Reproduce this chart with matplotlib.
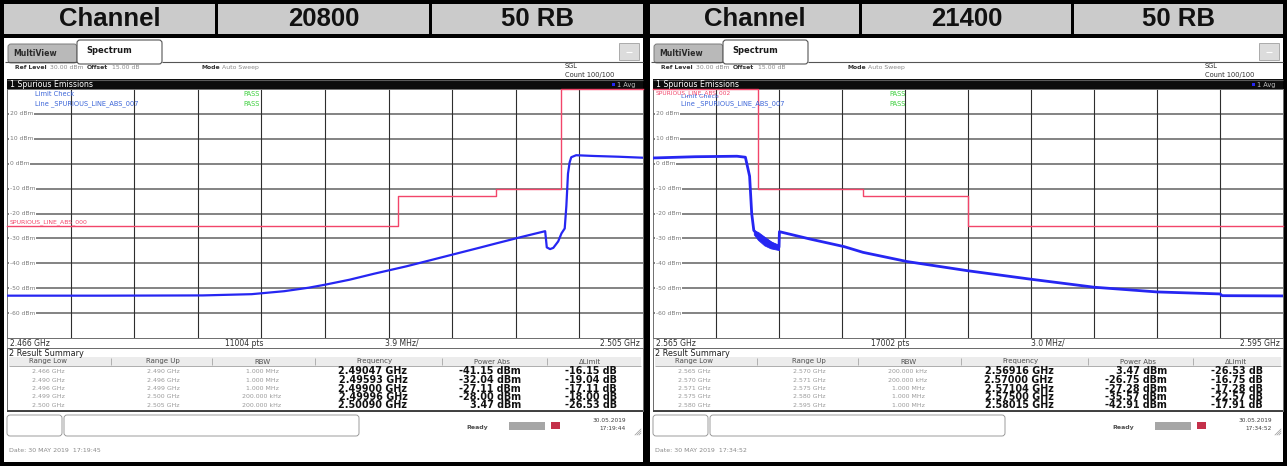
import numpy as np
import matplotlib
matplotlib.use("Agg")
import matplotlib.pyplot as plt
from matplotlib.patches import Rectangle, FancyBboxPatch

# ---------------- data ----------------
channels = ["20800", "21400"]
rb_labels = ["50 RB", "50 RB"]
span_start = [2.466, 2.565]
span_stop = [2.505, 2.595]
start_labels = ["2.466 GHz", "2.565 GHz"]
stop_labels = ["2.505 GHz", "2.595 GHz"]
points_labels = ["11004 pts", "17002 pts"]
div_labels = ["3.9 MHz/", "3.0 MHz/"]
status_dates = ["30.05.2019", "30.05.2019"]
status_times = ["17:19:44", "17:34:52"]
date_lines = ["Date: 30 MAY 2019  17:19:45", "Date: 30 MAY 2019  17:34:52"]
limit_line_names = ["SPURIOUS_LINE_ABS_000", "SPURIOUS_LINE_ABS_002"]

y_ticks_dbm = [20, 10, 0, -10, -20, -30, -40, -50, -60]
y_min, y_max = -70, 30

# trace of channel 20800 (GHz, dBm)
trace1_ghz = [2.4660, 2.4720, 2.4780, 2.4810, 2.4830, 2.4845, 2.4855, 2.4870, 2.4885,
              2.4895, 2.4905, 2.4920, 2.4935, 2.4950, 2.4960, 2.4975, 2.4990, 2.4991,
              2.4993, 2.4995, 2.4998, 2.5000, 2.5002, 2.5003, 2.5004, 2.5005, 2.5006,
              2.5009, 2.5020, 2.5035, 2.5050]
trace1_dbm = [-53.0, -53.0, -52.9, -52.4, -51.2, -49.8, -48.6, -46.6, -44.2,
              -42.7, -41.2, -38.7, -36.2, -33.7, -32.0, -29.5, -27.1, -33.6,
              -34.3, -33.8, -31.2, -28.0, -26.0, -17.0, -4.0, 0.5, 2.6,
              3.4, 3.1, 2.8, 2.4]

# trace of channel 21400 (GHz, dBm)
trace2_ghz = [2.5650, 2.5670, 2.5690, 2.5694, 2.5696, 2.5697, 2.5698, 2.5700, 2.5704,
              2.5707, 2.5710, 2.57102, 2.5725, 2.5741, 2.5750, 2.5771, 2.5800, 2.5830,
              2.5860, 2.5890, 2.5920, 2.5921, 2.5950]
trace2_dbm = [2.3, 2.8, 3.0, 2.6, -5.0, -20.0, -26.8, -28.5, -30.5,
              -32.2, -33.5, -27.3, -30.3, -33.3, -35.6, -39.3, -43.0, -46.4,
              -49.6, -51.5, -52.3, -53.0, -53.1]
noise2_ghz = [2.5698, 2.5700, 2.5703, 2.5706, 2.5710]
noise2_hi = [-26.8, -27.4, -29.3, -31.2, -32.6]
noise2_lo = [-28.4, -30.6, -32.8, -34.0, -34.7]

# result summary tables
range_low = [[2.466, 2.490, 2.496, 2.499, 2.500], [2.565, 2.570, 2.571, 2.575, 2.580]]
range_up = [[2.490, 2.496, 2.499, 2.500, 2.505], [2.570, 2.571, 2.575, 2.580, 2.595]]
rbw = [["1.000 MHz", "1.000 MHz", "1.000 MHz", "200.000 kHz", "200.000 kHz"],
       ["200.000 kHz", "200.000 kHz", "1.000 MHz", "1.000 MHz", "1.000 MHz"]]
peak_freq = [[2.49047, 2.49593, 2.49900, 2.49996, 2.50090],
             [2.56916, 2.57000, 2.57104, 2.57500, 2.58015]]
power_abs = [[-41.15, -32.04, -27.11, -28.00, 3.47],
             [3.47, -26.75, -27.28, -35.57, -42.91]]
delta_limit = [[-16.15, -19.04, -17.11, -18.00, -26.53],
               [-26.53, -16.75, -17.28, -22.57, -17.91]]
table_headers = ["Range Low", "Range Up", "RBW", "Frequency", "Power Abs", "\u0394Limit"]

traces = [(trace1_ghz, trace1_dbm, None), (trace2_ghz, trace2_dbm, (noise2_ghz, noise2_hi, noise2_lo))]

# ---------------- figure ----------------
W, H = 1287, 466
fig = plt.figure(figsize=(W / 100, H / 100), dpi=100)
fig.patch.set_facecolor("black")

bg = fig.add_axes([0, 0, 1, 1])
bg.set_xlim(0, W); bg.set_ylim(H, 0); bg.axis("off")

BLUE = "#2626f2"
RED = "#f2456a"
GRN = "#3ccf3c"
SF = "DejaVu Sans"


def rect(ax, x0, y0, x1, y1, fc="none", ec="none", lw=0.0, z=1):
    ax.add_patch(Rectangle((x0, y0), x1 - x0, y1 - y0, facecolor=fc, edgecolor=ec,
                           linewidth=lw, zorder=z))


def rrect(ax, x0, y0, x1, y1, fc, ec, lw=0.7, z=2, r=3):
    ax.add_patch(FancyBboxPatch((x0, y0), x1 - x0, y1 - y0,
                                boxstyle=f"round,pad=0,rounding_size={r}",
                                facecolor=fc, edgecolor=ec, linewidth=lw, zorder=z))


def txt(ax, x, y, s, size=5, color="k", ha="left", va="center", weight="normal",
        family=SF, z=5, **kw):
    ax.text(x, y, s, fontsize=size, color=color, ha=ha, va=va, fontweight=weight,
            family=family, zorder=z, **kw)


def hl(ax, x0, x1, y, color, lw, z=3):
    ax.plot([x0, x1], [y, y], color=color, lw=lw, zorder=z, solid_capstyle="butt")


def vl(ax, x, y0, y1, color, lw, z=3):
    ax.plot([x, x], [y0, y1], color=color, lw=lw, zorder=z, solid_capstyle="butt")


panels = [(4, 643), (650, 1283)]
PT, PB = 89, 338  # plot top / bottom in px

for i, (x0, x1) in enumerate(panels):
    # header cells
    w = (x1 - x0 - 6) / 3.0
    labels = ["Channel", channels[i], rb_labels[i]]
    for k in range(3):
        cx0 = x0 + k * (w + 3)
        rect(bg, cx0, 4, cx0 + w, 34, fc="#cbcbcb", z=1)
        txt(bg, cx0 + w / 2, 19.5, labels[k], size=18.5, color="#111111", ha="center",
            weight="bold", family="Liberation Sans")
    # panel body
    rect(bg, x0, 38, x1, 462, fc="white", z=1)
    # tabs
    rrect(bg, x0 + 4, 44, x0 + 73, 63, fc="#b9b9b9", ec="#7a7a7a", lw=0.7, r=3)
    rrect(bg, x0 + 73, 40, x0 + 158, 64, fc="white", ec="#555555", lw=0.8, r=3)
    txt(bg, x0 + 9, 53, "MultiView", size=5.6, color="#2a2a2a", weight="bold")
    txt(bg, x0 + 82, 50.5, "Spectrum", size=6.0, color="#1a1a1a", weight="bold")
    hl(bg, x0 + 1, x0 + 73, 62, "#555555", 0.8, z=4)
    hl(bg, x0 + 158, x1, 62, "#555555", 0.8, z=4)
    rect(bg, x1 - 24, 43, x1 - 4, 60, fc="#dcdcdc", ec="#a0a0a0", lw=0.6, z=3)
    hl(bg, x1 - 17, x1 - 11, 51.5, "#ffffff", 0.8, z=4)
    # ref level row
    txt(bg, x0 + 11, 67.5, "Ref Level", size=4.4, color="#303030", weight="bold")
    txt(bg, x0 + 46, 67.5, "30.00 dBm", size=4.4, color="#8a8a8a")
    txt(bg, x0 + 83, 67.5, "Offset", size=4.4, color="#303030", weight="bold")
    txt(bg, x0 + 108, 67.5, "15.00 dB", size=4.4, color="#8a8a8a")
    txt(bg, x0 + 198, 67.5, "Mode", size=4.4, color="#303030", weight="bold")
    txt(bg, x0 + 218, 67.5, "Auto Sweep", size=4.4, color="#8a8a8a")
    txt(bg, x1 - 78, 66, "SGL", size=4.8, color="#303030")
    txt(bg, x1 - 78, 74.5, "Count 100/100", size=4.8, color="#303030")
    # black title bar
    rect(bg, x0 + 3, 79, x1, 89, fc="#0c0c0c", z=2)
    hl(bg, x0 + 3, x1, 79.5, "#5a5a5a", 0.8, z=3)
    txt(bg, x0 + 6, 84.5, "1 Spurious Emissions", size=5.6, color="white")
    rect(bg, x1 - 31, 83, x1 - 28, 86, fc=BLUE, z=4)
    txt(bg, x1 - 26, 84.5, "1 Avg", size=4.8, color="#bbbbbb")
    # x-axis label bar
    rect(bg, x0 + 3, PB, x1, 348, fc="white", ec="#8a8a8a", lw=0.6, z=2)
    txt(bg, x0 + 6, 343, start_labels[i], size=5.5, color="#303030")
    txt(bg, x0 + 221, 343, points_labels[i], size=5.5, color="#303030")
    txt(bg, x0 + 381, 343, div_labels[i], size=5.5, color="#303030")
    txt(bg, x1 - 3, 343, stop_labels[i], size=5.5, color="#303030", ha="right")
    # result summary
    rect(bg, x0 + 3, 348, x1, 411, fc="white", ec="#6a6a6a", lw=0.7, z=2)
    hl(bg, x0 + 3, x1, 411, "#404040", 1.4, z=3)
    txt(bg, x0 + 5, 353, "2 Result Summary", size=5.9, color="#202020")
    rect(bg, x0 + 5, 357, x1 - 2, 365.5, fc="#ececec", z=3)
    hl(bg, x0 + 5, x1 - 2, 366, "#a0a0a0", 0.6, z=4)
    for sx in [107, 208, 311, 438, 543]:
        vl(bg, x0 + sx, 358, 365, "#b0b0b0", 0.7, z=4)
    hcx = [44, 159, 258, 370, 488, 586]
    for k, h in enumerate(table_headers):
        txt(bg, x0 + hcx[k], 361.5, h, size=5.0, color="#505050", ha="center", z=5)
    for r in range(5):
        yy = 371.5 + r * 8.5
        txt(bg, x0 + 44, yy, f"{range_low[i][r]:.3f} GHz", size=4.5, color="#9a9a9a", ha="center")
        txt(bg, x0 + 159, yy, f"{range_up[i][r]:.3f} GHz", size=4.5, color="#9a9a9a", ha="center")
        txt(bg, x0 + 258, yy, rbw[i][r], size=4.5, color="#9a9a9a", ha="center")
        txt(bg, x0 + 369, yy, f"{peak_freq[i][r]:.5f} GHz", size=6.9, color="#111111",
            ha="center", weight="bold")
        txt(bg, x0 + 517, yy, f"{power_abs[i][r]:.2f} dBm", size=6.9, color="#111111",
            ha="right", weight="bold")
        txt(bg, x0 + 613, yy, f"{delta_limit[i][r]:.2f} dB", size=6.9, color="#111111",
            ha="right", weight="bold")
    # status bar
    rrect(bg, x0 + 3, 415, x0 + 58, 436, fc="white", ec="#8c8c8c", lw=0.6, r=3)
    rrect(bg, x0 + 60, 415, x0 + 355, 436, fc="white", ec="#8c8c8c", lw=0.6, r=3)
    txt(bg, x0 + 462, 427, "Ready", size=4.5, color="#505050", weight="bold")
    rect(bg, x0 + 505, 422, x0 + 541, 430, fc="#a6a6a6", z=3)
    rect(bg, x0 + 547, 422, x0 + 556, 429, fc="#c4304a", z=3)
    txt(bg, x0 + 622, 420, status_dates[i], size=4.2, color="#404040", ha="right")
    txt(bg, x0 + 622, 429, status_times[i], size=4.2, color="#404040", ha="right")
    for g in range(3):
        bg.plot([x1 - 8 + 2 * g, x1 - 2], [435, 435 - 6 + 2 * g], color="#9a9a9a", lw=0.5, zorder=4)
    txt(bg, x0 + 5, 451, date_lines[i], size=4.5, color="#8a8a8a")

    # ------------- spectrum plot -------------
    px0, px1 = x0 + 3, x1
    ax = fig.add_axes([px0 / W, 1 - PB / H, (px1 - px0) / W, (PB - PT) / H])
    f0, f1 = span_start[i], span_stop[i]
    ax.set_xlim(f0, f1)
    ax.set_ylim(y_min, y_max)
    ax.set_facecolor("white")
    for y in y_ticks_dbm:
        ax.axhline(y, color="#6e6e6e", lw=1.2, zorder=1)
    for xg in np.linspace(f0, f1, 11)[1:-1]:
        ax.axvline(xg, color="#2e2e2e", lw=0.8, zorder=1)
    ax.set_xticks([]); ax.set_yticks([])
    for s in ax.spines.values():
        s.set_color("#707070"); s.set_linewidth(0.7)

    # limit line from the table (limit = power - delta)
    lim = [p - d for p, d in zip(power_abs[i], delta_limit[i])]
    lx = list(range_low[i]) + [range_up[i][-1]]
    ly = lim + [lim[-1]]
    ax.step(lx, ly, where="post", color=RED, lw=1.0, zorder=3, clip_on=False)

    tg, td, noise = traces[i]
    if noise is not None:
        ax.fill_between(noise[0], noise[2], noise[1], color=BLUE, lw=0.6, zorder=4)
    ax.plot(tg, td, color=BLUE, lw=1.6 if i == 0 else 2.0, zorder=5)

# ---------------- overlay for in-plot text ----------------
fg = fig.add_axes([0, 0, 1, 1])
fg.set_xlim(0, W); fg.set_ylim(H, 0); fg.axis("off")
fg.patch.set_alpha(0)

for i, (x0, x1) in enumerate(panels):
    px0 = x0 + 3
    for v in y_ticks_dbm:
        yy = PT + (y_max - v) / (y_max - y_min) * (PB - PT)
        fg.text(px0 + 3, yy, f"{v} dBm", fontsize=4.3, color="#7a7a7a", ha="left",
                va="center", family=SF,
                bbox=dict(facecolor="white", edgecolor="none", pad=0.4))
    if i == 1:
        txt(fg, px0 + 3, 93.5, limit_line_names[i], size=4.2, color=RED)
        txt(fg, px0 + 28, 96.5, "Limit Check", size=4.6, color="#3a64d8")
    else:
        txt(fg, px0 + 28, 94.5, "Limit Check", size=4.8, color="#3a64d8")
    txt(fg, px0 + 28, 104, "Line _SPURIOUS_LINE_ABS_007", size=4.8, color="#3a64d8")
    txt(fg, px0 + 236, 94.5, "PASS", size=4.8, color=GRN)
    txt(fg, px0 + 236, 104, "PASS", size=4.8, color=GRN)
    if i == 0:
        yl = PT + (y_max - (power_abs[0][0] - delta_limit[0][0])) / (y_max - y_min) * (PB - PT)
        txt(fg, px0 + 3, yl - 3.5, limit_line_names[i], size=4.4, color=RED)

fig.savefig("out.png", dpi=100, facecolor="black")
